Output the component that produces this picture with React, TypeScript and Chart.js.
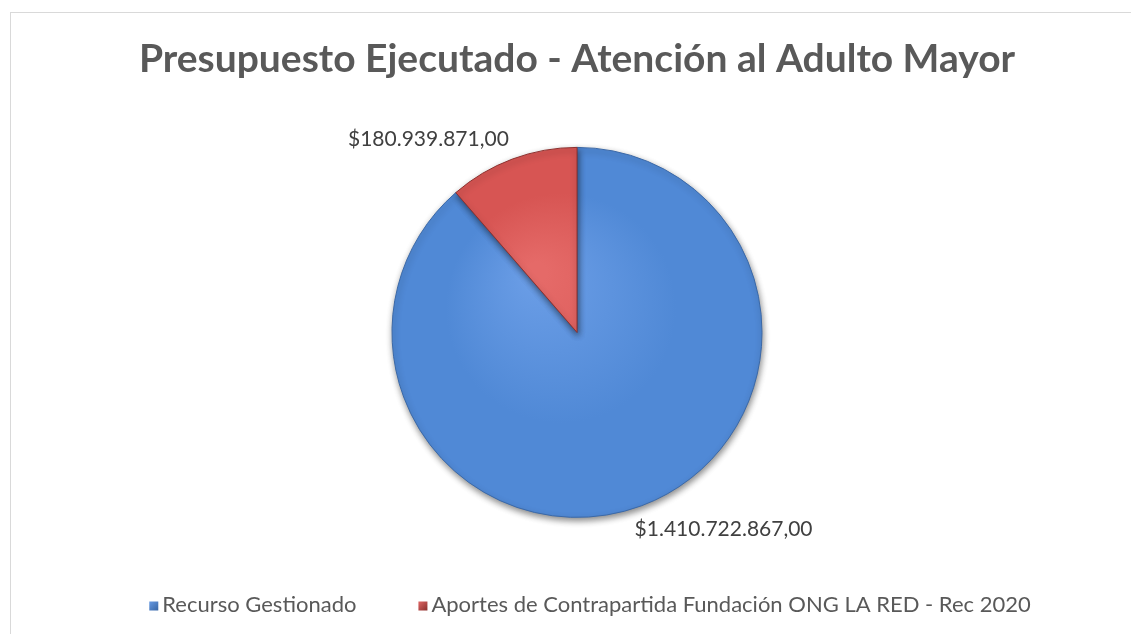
import React, { useEffect, useRef } from "react";
import { Chart, registerables } from "chart.js";

Chart.register(...registerables);

const TITLE = "Presupuesto Ejecutado - Atención al Adulto Mayor";
const CATEGORIES = [
  "Recurso Gestionado",
  "Aportes de Contrapartida Fundación ONG LA RED - Rec 2020",
];
const VALUES = [1410722867.0, 180939871.0];
const COLORS = ["#5089d6", "#d75553"];
const LIGHT_COLORS = ["#6a9de6", "#e56a68"];
const EDGE_COLORS = ["#3b69a8", "#8e3230"];

const FONT = "Lato, 'Open Sans', sans-serif";
const TITLE_SIZE = 39;
const LABEL_SIZE = 21;
const LEGEND_SIZE = 22;
const PIE_RADIUS = 185;

function fmtMoney(v: number): string {
  const [intPart, dec] = v.toFixed(2).split(".");
  const withDots = intPart.replace(/\B(?=(\d{3})+(?!\d))/g, ".");
  return "$" + withDots + "," + dec;
}

const framePlugin = {
  id: "frame",
  beforeDraw(chart: any) {
    const ctx = chart.ctx;
    ctx.save();
    ctx.fillStyle = "#ffffff";
    ctx.fillRect(0, 0, chart.width, chart.height);
    ctx.strokeStyle = "#d9d9d9";
    ctx.lineWidth = 1;
    ctx.strokeRect(10.5, 12.5, chart.width + 100, chart.height + 100);
    ctx.restore();
  },
};

const shadowPlugin = {
  id: "pieShadow",
  beforeDatasetsDraw(chart: any) {
    const ctx = chart.ctx;
    ctx.save();
    ctx.shadowColor = "rgba(0,0,0,0.45)";
    ctx.shadowBlur = 6;
    ctx.shadowOffsetX = 1;
    ctx.shadowOffsetY = 3;
  },
  afterDatasetsDraw(chart: any) {
    chart.ctx.restore();
  },
};

const labelsPlugin = {
  id: "outsideLabels",
  afterDraw(chart: any) {
    const ctx = chart.ctx;
    const meta = chart.getDatasetMeta(0);
    ctx.save();
    ctx.font = `${LABEL_SIZE}px ${FONT}`;
    ctx.fillStyle = "#404040";
    meta.data.forEach((arc: any, i: number) => {
      const { x, y, startAngle, endAngle, outerRadius } = arc.getProps(
        ["x", "y", "startAngle", "endAngle", "outerRadius"],
        true
      );
      const mid = (startAngle + endAngle) / 2;
      const c = Math.cos(mid);
      const s = Math.sin(mid);
      const r = outerRadius + (s > 0 ? 14 : 10);
      const ax = x + c * r - (s > 0 ? 12 : 0);
      const ay = y + s * r;
      ctx.textAlign = Math.abs(c) < 0.05 ? "center" : c < 0 ? "right" : "left";
      ctx.textBaseline = s < 0 ? "bottom" : "top";
      ctx.fillText(fmtMoney(VALUES[i]), ax, ay);
    });
    ctx.restore();
  },
};

const legendPlugin = {
  id: "bottomLegend",
  afterDraw(chart: any) {
    const ctx = chart.ctx;
    ctx.save();
    ctx.font = `${LEGEND_SIZE}px ${FONT}`;
    const box = 9;
    const gapText = 4;
    const gapItem = 62;
    const widths = CATEGORIES.map((c) => ctx.measureText(c).width);
    const total =
      widths.reduce((a, w) => a + box + gapText + w, 0) +
      gapItem * (CATEGORIES.length - 1);
    let x = 590 - total / 2;
    const y = 605;
    ctx.textBaseline = "middle";
    ctx.textAlign = "left";
    CATEGORIES.forEach((c, i) => {
      const g = ctx.createLinearGradient(x, y - box / 2, x + box, y + box / 2);
      g.addColorStop(0, LIGHT_COLORS[i]);
      g.addColorStop(1, EDGE_COLORS[i]);
      ctx.fillStyle = g;
      ctx.fillRect(x, y - box / 2 + 1, box, box);
      x += box + gapText;
      ctx.fillStyle = "#595959";
      ctx.fillText(c, x, y);
      x += widths[i] + gapItem;
    });
    ctx.restore();
  },
};

function sliceFill(ctx: any) {
  const chart = ctx.chart;
  const area = chart.chartArea;
  const i = ctx.dataIndex;
  if (!area) return COLORS[i];
  const cx = (area.left + area.right) / 2;
  const cy = (area.top + area.bottom) / 2;
  const g = chart.ctx.createRadialGradient(cx - 40, cy - 60, 10, cx, cy, PIE_RADIUS);
  g.addColorStop(0, LIGHT_COLORS[i]);
  g.addColorStop(0.6, COLORS[i]);
  g.addColorStop(1, COLORS[i]);
  return g;
}

export default function App() {
  const ref = useRef<HTMLCanvasElement | null>(null);

  useEffect(() => {
    if (!ref.current) return;
    const chart = new Chart(ref.current, {
      type: "pie",
      data: {
        labels: CATEGORIES,
        datasets: [
          {
            data: VALUES,
            backgroundColor: sliceFill as any,
            borderColor: EDGE_COLORS,
            borderWidth: 1,
          },
        ],
      },
      options: {
        animation: false,
        responsive: false,
        radius: PIE_RADIUS,
        layout: { padding: { top: 0, bottom: 72, left: 23, right: 0 } },
        plugins: {
          legend: { display: false },
          tooltip: { enabled: false },
          title: {
            display: true,
            text: TITLE,
            color: "#595959",
            font: { family: FONT, size: TITLE_SIZE, weight: "bold" },
            padding: { top: 36, bottom: 20 },
          },
        },
      } as any,
      plugins: [framePlugin, shadowPlugin, labelsPlugin, legendPlugin],
    });
    return () => chart.destroy();
  }, []);

  return (
    <div style={{ position: "fixed", left: 0, top: 0, width: 1131, height: 634, background: "#fff" }}>
      <canvas ref={ref} width={1131} height={634} style={{ display: "block" }} />
    </div>
  );
}
